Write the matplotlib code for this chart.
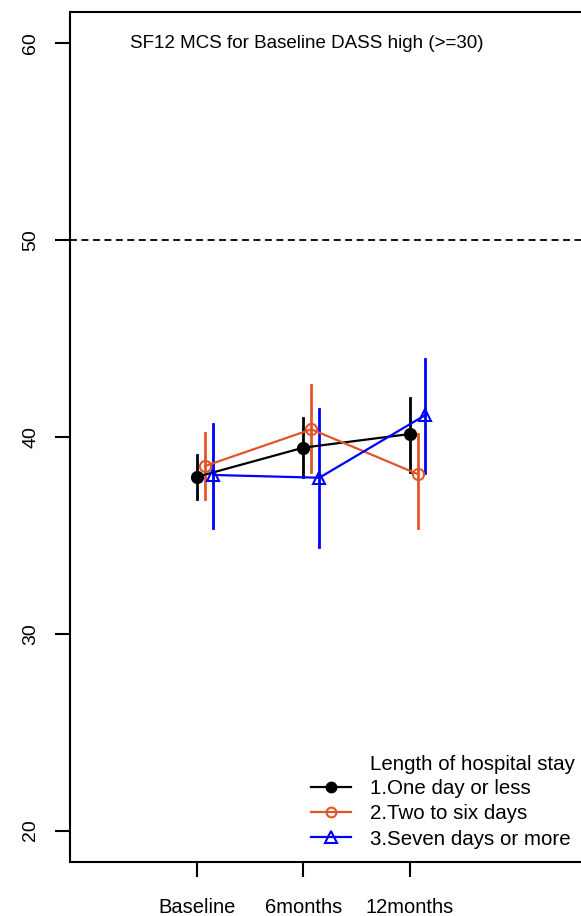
import matplotlib
matplotlib.use("Agg")
import matplotlib.pyplot as plt
from matplotlib.lines import Line2D

plt.rcParams['font.family'] = ['Liberation Sans', 'DejaVu Sans']

timepoints = ["Baseline", "6months", "12months"]
groups = ["1.One day or less", "2.Two to six days", "3.Seven days or more"]
means = [
    [37.98, 39.46, 40.15],
    [38.53, 40.39, 38.12],
    [38.07, 37.93, 41.12],
]
lower = [
    [36.83, 37.98, 38.24],
    [36.83, 38.24, 35.39],
    [35.36, 34.42, 38.15],
]
upper = [
    [39.08, 40.95, 42.00],
    [40.22, 42.64, 40.15],
    [40.66, 41.41, 43.97],
]
colors = ["#000000", "#E0562B", "#0000FF"]
markers = ["o", "o", "^"]
fills = [True, False, False]
offsets = [0.0, 0.075, 0.15]
ref_value = 50
title = "SF12 MCS for Baseline DASS high (>=30)"
legend_title = "Length of hospital stay"

W, H = 581, 916
fig = plt.figure(figsize=(W / 100, H / 100), dpi=100)
# axes: left spine at x=70, top y=12, bottom y=862; extends beyond right edge
ax = fig.add_axes([70 / W, (H - 862) / H, 573 / W, 850 / H])
ax.set_xlim(-0.2, 5.2)
ax.set_ylim(18.4, 61.6)

for i in range(3):
    xs = [j + 1 + offsets[i] for j in range(3)]
    ax.plot(xs, means[i], color=colors[i], lw=1.6, zorder=3)
    for j in range(3):
        ax.plot([xs[j], xs[j]], [lower[i][j], upper[i][j]], color=colors[i], lw=2, zorder=2)
    ax.plot(xs, means[i], linestyle='none', marker=markers[i], ms=8 if markers[i] == 'o' else 9,
            markerfacecolor=colors[i] if fills[i] else 'none', markeredgecolor=colors[i],
            markeredgewidth=1.5, zorder=4)

ax.axhline(ref_value, color='black', lw=1.3, linestyle=(0, (3.85, 2.5)))

ax.spines['right'].set_visible(False)
for s in ['left', 'bottom', 'top']:
    ax.spines[s].set_linewidth(1.5)

ax.set_yticks([20, 30, 40, 50, 60])
ax.set_yticklabels(["20", "30", "40", "50", "60"], rotation=90, va='center', fontsize=14)
ax.set_xticks([1, 2, 3])
ax.set_xticklabels(timepoints, fontsize=14.5)
ax.tick_params(axis='y', length=10.8, width=1.5, pad=11.5)
ax.tick_params(axis='x', length=10.8, width=1.5, pad=15)

fig.text(306.5 / W, 1 - 44 / H, title, ha='center', va='center', fontsize=13.5)

handles = []
for i in range(3):
    handles.append(Line2D([0], [0], color=colors[i], lw=1.6, marker=markers[i],
                          ms=7 if markers[i] == 'o' else 8,
                          markerfacecolor=colors[i] if fills[i] else 'none',
                          markeredgecolor=colors[i], markeredgewidth=1.5))
fig.text(370 / W, 1 - 765 / H, legend_title, ha='left', va='center', fontsize=14.8)
leg = fig.legend(handles, groups, loc='upper left',
                 bbox_to_anchor=(304 / W, 1 - 772 / H), frameon=False, fontsize=14.8,
                 handlelength=1.95, handletextpad=0.92, labelspacing=0.3,
                 borderaxespad=0, borderpad=0.35)

fig.savefig("out.png", dpi=100)
